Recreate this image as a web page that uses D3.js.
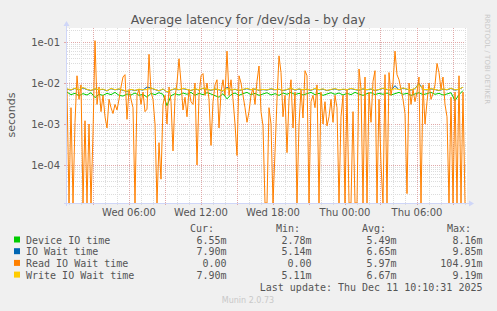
<!DOCTYPE html>
<html><head><meta charset="utf-8">
<script src="https://cdn.jsdelivr.net/npm/d3@7"></script>
<style>body{margin:0;background:#f0f0f0;}svg{display:block}</style>
</head><body><svg id="c" width="497" height="311"></svg>
<script>
// ---------- data ----------
const chartTitle = "Average latency for /dev/sda - by day";
const yAxisLabel = "seconds";
const startMs = Date.UTC(2025, 11, 10, 0, 52, 30);   // left edge of plot
const endMs   = Date.UTC(2025, 11, 11, 10, 12, 30);  // right edge of plot
const readStepMin = 10;   // read wait series sampled every 10 minutes
const flatStepMin = 20;   // other series sampled every 20 minutes

const yTickValues = [1e-4, 1e-3, 1e-2, 1e-1];
const yTickLabels = ["1e-04", "1e-03", "1e-02", "1e-01"];
const xTickTimes = [Date.UTC(2025,11,10,6), Date.UTC(2025,11,10,12), Date.UTC(2025,11,10,18), Date.UTC(2025,11,11,0), Date.UTC(2025,11,11,6)];
const xTickLabels = ["Wed 06:00", "Wed 12:00", "Wed 18:00", "Thu 00:00", "Thu 06:00"];

// values in milliseconds
const deviceIO = [6.0,5.2,5.6,4.9,5.5,5.1,5.8,4.4,5.3,5.0, 5.6,5.2,5.9,5.0,4.8,5.4,5.1,5.7,5.0,5.3,
  4.5,5.6,5.2,5.8,5.3,2.8,4.9,5.5,5.1,5.7, 5.3,5.9,5.0,5.6,5.2,5.8,5.4,4.9,4.5,5.5,
  4.1,5.2,5.7,5.0,5.5,5.9,5.2,5.6,5.0,5.4, 5.8,5.1,5.5,5.0,5.7,5.3,5.9,5.2,5.6,5.1,
  5.5,5.9,5.2,5.6,5.0,5.4,5.8,5.3,5.7,5.1, 5.6,5.2,5.9,5.4,5.0,5.5,5.8,5.2,5.6,5.3,
  5.7,5.1,5.5,5.9,5.3,5.6,5.0,5.4,5.8,5.2, 5.5,5.9,5.3,5.6,5.1,5.4,5.8,3.7,5.2,6.55];
const ioWait = [7.1,6.7,7.4,6.8,7.6,6.9,6.5,7.2,6.8,7.0, 6.4,7.3,6.8,7.1,6.6,6.2,6.9,6.5,7.0,6.7,
  8.0,7.5,6.9,6.4,7.1,6.0,6.7,7.2,6.8,7.3, 6.9,6.5,7.2,6.7,7.4,7.0,6.6,7.1,6.8,6.3,
  7.9,6.7,7.0,6.5,6.9,7.3,6.8,7.1,6.6,6.9, 6.7,7.2,6.8,7.0,6.5,6.9,7.4,6.7,7.1,6.8,
  7.0,6.6,7.3,6.8,7.1,6.5,6.9,7.2,6.7,7.0, 6.8,7.3,6.9,6.6,7.2,6.8,7.1,6.5,6.9,7.4,
  6.9,6.7,8.6,6.8,7.5,7.0,6.7,7.3,9.8,6.9, 6.8,7.2,6.9,6.5,7.1,6.8,7.4,6.7,7.0,7.9];
const readWait = [7,0,2.5,0,1.1,15,4,9,0,1.2, 0,1.0,0,0.6,108,3,8,2,5,1.5,
  0.8,4,2.5,1.8,3,2.2,4,8,14,16, 1.3,7,4,2.5,0,5,7,3,6,2,
  2.3,50,6,4,1.0,0,0.35,0.045,3,5, 1.0,8,3.5,0.22,4.5,10,39,10,2.2,4.5,
  1.5,7,3.5,3,10,0.1,5,15,17,5, 10,4,0.3,3.5,9,12,0.8,6,12,5,
  60,5,12,4,1.0,0.17,15,10,5,2.5, 1.1,2,5,7.5,3,11,26,2,0.9,0,
  0,2.5,1,0,0.2,4,46,18,1.5,5, 0.2,4,12,0.8,6,0,1.0,7,1.4,20,
  15,0,3.5,5,2.5,9,0,6,1.0,3.5, 0.9,1.5,4,1.1,5,2.5,0,1.5,5,0,
  7,0,0,2,0,0,22,7,0,14, 0,6,1.1,11,20,0,4,0.1,0,16,
  0,18,5,10,60,16,12,7,4,1.8, 0.02,10,3,7,3.5,6,14,0,9,1.0,
  3.5,10,4,5.5,9,30,18,7,14,3, 1.5,0,4.5,0,6,0,15,0,6,0];
const writeWait = [7.2,6.8,7.5,6.9,7.8,7.0,6.6,7.3,6.9,7.1, 6.5,7.4,6.9,7.2,6.7,6.3,7.0,6.6,7.1,6.8,
  6.9,7.6,7.0,6.5,7.2,6.1,6.8,7.3,6.9,7.4, 7.0,6.6,7.3,6.8,7.5,7.1,6.7,7.2,6.9,6.4,
  7.3,6.8,7.1,6.6,7.0,7.4,6.9,7.2,6.7,7.0, 6.8,7.3,6.9,7.1,6.6,7.0,7.5,6.8,7.2,6.9,
  7.1,6.7,7.4,6.9,7.2,6.6,7.0,7.3,6.8,7.1, 6.9,7.4,7.0,6.7,7.3,6.9,7.2,6.6,7.0,7.5,
  7.0,6.8,7.3,6.9,7.6,7.1,6.8,7.4,9.2,7.0, 6.9,7.3,7.0,6.6,7.2,6.9,7.5,6.8,7.1,7.9];

const seriesNames = ["Device IO time", "IO Wait time", "Read IO Wait time", "Write IO Wait time"];
const curVals = ["6.55m", "7.90m", "0.00", "7.90m"];
const minVals = ["2.78m", "5.14m", "0.00", "5.11m"];
const avgVals = ["5.49m", "6.65m", "5.97m", "6.67m"];
const maxVals = ["8.16m", "9.85m", "104.91m", "9.19m"];
const lastUpdate = "Last update: Thu Dec 11 10:10:31 2025";
const footer = "Munin 2.0.73";
const sideText = "RRDTOOL / TOBI OETIKER";

// ---------- styles ----------
const colors = ["#00cc00", "#0066b3", "#ff8000", "#ffcc00"];
const L = 67, R = 467, T = 28, B = 203;
const fontSans = "DejaVu Sans, sans-serif";
const fontMono = "DejaVu Sans Mono, monospace";
const textCol = "#555";
const axisCol = "#cfd6f8";
const minorGrid = "#dcdcdc", majorGrid = "#e0a8a8";

const svg = d3.select("#c");
svg.append("rect").attr("width", 497).attr("height", 311).attr("fill", "#f0f0f0");

const x = d3.scaleUtc().domain([startMs, endMs]).range([L, R]);
const y = d3.scaleLog().domain([1.18e-5, 0.22]).range([B, T]);
const yMin = y.domain()[0];
const yy = v => v <= yMin ? B : Math.min(B, y(v));

svg.append("rect").attr("x", L).attr("y", T).attr("width", R - L).attr("height", B - T).attr("fill", "#fff");

// grid
const g = svg.append("g");
const decades = [1e-5, 1e-4, 1e-3, 1e-2, 1e-1];
decades.forEach(d => {
  for (let m = 1; m <= 9; m++) {
    const v = d * m;
    if (v < y.domain()[0] || v > y.domain()[1]) continue;
    const py = Math.round(y(v)) + 0.5;
    g.append("line").attr("x1", L).attr("x2", R).attr("y1", py).attr("y2", py)
      .attr("stroke", m === 1 ? majorGrid : minorGrid).attr("stroke-width", 1)
      .attr("stroke-dasharray", "1,1");
    if (m === 1) g.append("line").attr("x1", L - 3).attr("x2", L).attr("y1", py).attr("y2", py).attr("stroke", majorGrid);
  }
});
const hourTicks = d3.utcHour.range(new Date(startMs), new Date(endMs));
hourTicks.forEach(t => {
  const major = t.getUTCHours() % 3 === 0;
  const px = Math.round(x(t)) + 0.5;
  g.append("line").attr("x1", px).attr("x2", px).attr("y1", T).attr("y2", B)
    .attr("stroke", major ? majorGrid : minorGrid).attr("stroke-dasharray", "1,1");
  g.append("line").attr("x1", px).attr("x2", px).attr("y1", B).attr("y2", B + 2)
    .attr("stroke", major ? majorGrid : minorGrid);
});

// series
const readPts = readWait.map((v, i) => [startMs + i * readStepMin * 60000, v / 1000]);
const flat = arr => arr.map((v, i) => [startMs + i * flatStepMin * 60000, v / 1000]);
const line = d3.line().x(d => x(d[0])).y(d => yy(d[1]));
svg.append("clipPath").attr("id", "pc").append("rect").attr("x", L).attr("y", T).attr("width", R - L).attr("height", B - T + 1);
const sg = svg.append("g").attr("clip-path", "url(#pc)");
[[flat(deviceIO), 0], [flat(ioWait), 1], [readPts, 2], [flat(writeWait), 3]].forEach(([pts, ci]) => {
  sg.append("path").attr("d", line(pts)).attr("fill", "none").attr("stroke", colors[ci]).attr("stroke-width", 1);
});

// axes lines with arrows
svg.append("line").attr("x1", L - 0.5).attr("x2", L - 0.5).attr("y1", B + 3).attr("y2", T - 4).attr("stroke", axisCol);
svg.append("path").attr("d", `M${L - 3.5},${T - 2} L${L - 0.5},${T - 7} L${L + 2.5},${T - 2} Z`).attr("fill", axisCol);
svg.append("line").attr("x1", L - 3).attr("x2", R + 4).attr("y1", B + 0.5).attr("y2", B + 0.5).attr("stroke", axisCol);
svg.append("path").attr("d", `M${R + 2},${B - 2.5} L${R + 7},${B + 0.5} L${R + 2},${B + 3.5} Z`).attr("fill", axisCol);

// y axis labels
const yAxis = d3.axisLeft(y).tickValues(yTickValues).tickFormat((d, i) => yTickLabels[i]).tickSize(0).tickPadding(7);
const ya = svg.append("g").attr("transform", `translate(${L},0)`).call(yAxis);
ya.select(".domain").remove();
ya.selectAll("text").attr("font-family", fontSans).attr("font-size", 10).attr("fill", textCol);

// x axis labels
const xAxis = d3.axisBottom(x).tickValues(xTickTimes).tickFormat((d, i) => xTickLabels[i]).tickSize(0).tickPadding(6);
const xa = svg.append("g").attr("transform", `translate(0,${B})`).call(xAxis);
xa.select(".domain").remove();
xa.selectAll("text").attr("font-family", fontSans).attr("font-size", 10).attr("fill", textCol);

// title
svg.append("text").attr("x", 248).attr("y", 23.5).attr("text-anchor", "middle")
  .attr("font-family", fontSans).attr("font-size", 12.5).attr("fill", textCol).text(chartTitle);
// y label
svg.append("text").attr("transform", "translate(15,115) rotate(-90)").attr("text-anchor", "middle")
  .attr("font-family", fontSans).attr("font-size", 11).attr("fill", textCol).text(yAxisLabel);
// side text
svg.append("text").attr("transform", "translate(485,14) rotate(90)").attr("text-anchor", "start")
  .attr("font-family", fontSans).attr("font-size", 7).attr("fill", "#c8c8c8").text(sideText);

// legend
const lg = svg.append("g").attr("font-family", fontMono).attr("font-size", 10).attr("fill", textCol);
const headers = ["Cur:", "Min:", "Avg:", "Max:"];
const headerX = [190, 276, 362, 447];
headers.forEach((h, i) => lg.append("text").attr("x", headerX[i]).attr("y", 231.5).text(h));
const colEnds = [226.5, 311.5, 396.5, 482.5];
const rowY = [243.5, 255.2, 266.9, 278.6];
seriesNames.forEach((n, i) => {
  lg.append("rect").attr("x", 14).attr("y", rowY[i] - 7).attr("width", 6).attr("height", 6).attr("fill", colors[i]);
  lg.append("text").attr("x", 26).attr("y", rowY[i]).text(n);
  [curVals, minVals, avgVals, maxVals].forEach((arr, c) => {
    lg.append("text").attr("x", colEnds[c]).attr("y", rowY[i]).attr("text-anchor", "end").text(arr[i]);
  });
});
lg.append("text").attr("x", 482.5).attr("y", 290.8).attr("text-anchor", "end").text(lastUpdate);
svg.append("text").attr("x", 248).attr("y", 303).attr("text-anchor", "middle")
  .attr("font-family", fontSans).attr("font-size", 8).attr("fill", "#c8c8c8").text(footer);
</script></body></html>
